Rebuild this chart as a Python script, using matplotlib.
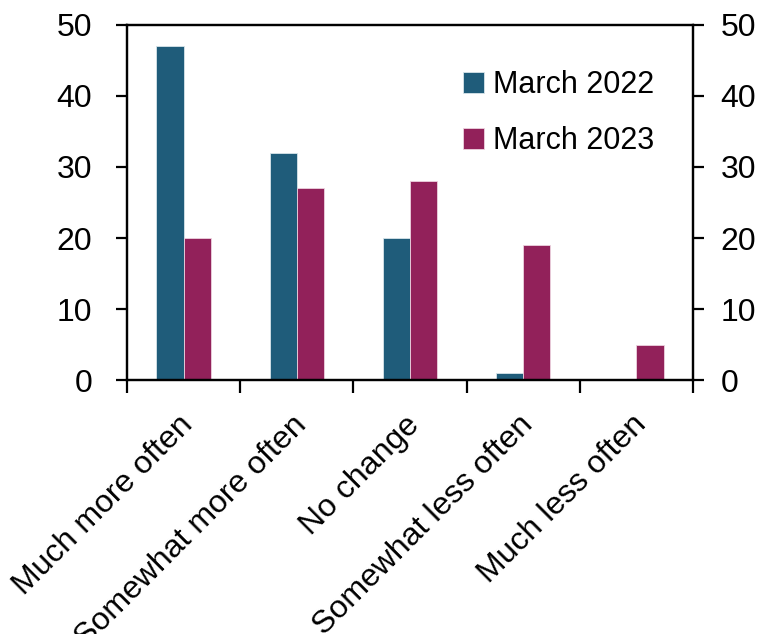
import matplotlib.pyplot as plt
import matplotlib.transforms as mtransforms
import numpy as np

plt.rcParams['font.family'] = ['Liberation Sans', 'DejaVu Sans']

categories = ['Much more often', 'Somewhat more often', 'No change',
              'Somewhat less often', 'Much less often']
march_2022 = [47, 32, 20, 1, 0]
march_2023 = [20, 27, 28, 19, 5]
yticks = [0, 10, 20, 30, 40, 50]

blue = '#1f5c7a'
plum = '#92215a'

fig = plt.figure(figsize=(7.6, 6.34), dpi=100)
ax = fig.add_axes([0.1671, 0.4006, 0.7447, 0.5600])

x = np.arange(len(categories))
w = 0.24
ax.bar(x - w / 2, march_2022, w, color=blue, edgecolor='#d8e4ea', linewidth=0.6,
       label='March 2022')
ax.bar(x + w / 2, march_2023, w, color=plum, edgecolor='#ecd3df', linewidth=0.6,
       label='March 2023')

ax.set_xlim(-0.5, len(categories) - 0.5)
ax.set_ylim(0, 50)
ax.set_yticks(yticks)

# category boundaries get the tick marks, centres get the labels
ax.set_xticks(x)
ax.set_xticklabels(categories, rotation=45, ha='right', va='center',
                   rotation_mode='anchor', fontsize=23)
ax.set_xticks(np.arange(-0.5, len(categories)), minor=True)
ax.tick_params(axis='x', which='major', length=0, pad=29)
ax.tick_params(axis='x', which='minor', length=9, width=1.6, direction='out')
shift = mtransforms.ScaledTranslation(5 / 100, 0, fig.dpi_scale_trans)
for lbl in ax.get_xticklabels():
    lbl.set_transform(lbl.get_transform() + shift)

ax.tick_params(axis='y', length=8, width=1.6, direction='out', labelsize=23, pad=17)

ax2 = ax.twinx()
ax2.set_ylim(0, 50)
ax2.set_yticks(yticks)
ax2.tick_params(axis='y', length=8, width=1.6, direction='out', labelsize=23, pad=12)

for a in (ax, ax2):
    for s in a.spines.values():
        s.set_linewidth(1.6)

ax.legend(loc='upper left', bbox_to_anchor=(0.594, 0.873), frameon=False,
          fontsize=22, borderpad=0, borderaxespad=0,
          handlelength=0.68, handleheight=0.68,
          handletextpad=0.3, labelspacing=0.85)

fig.savefig('out.png', dpi=100)
